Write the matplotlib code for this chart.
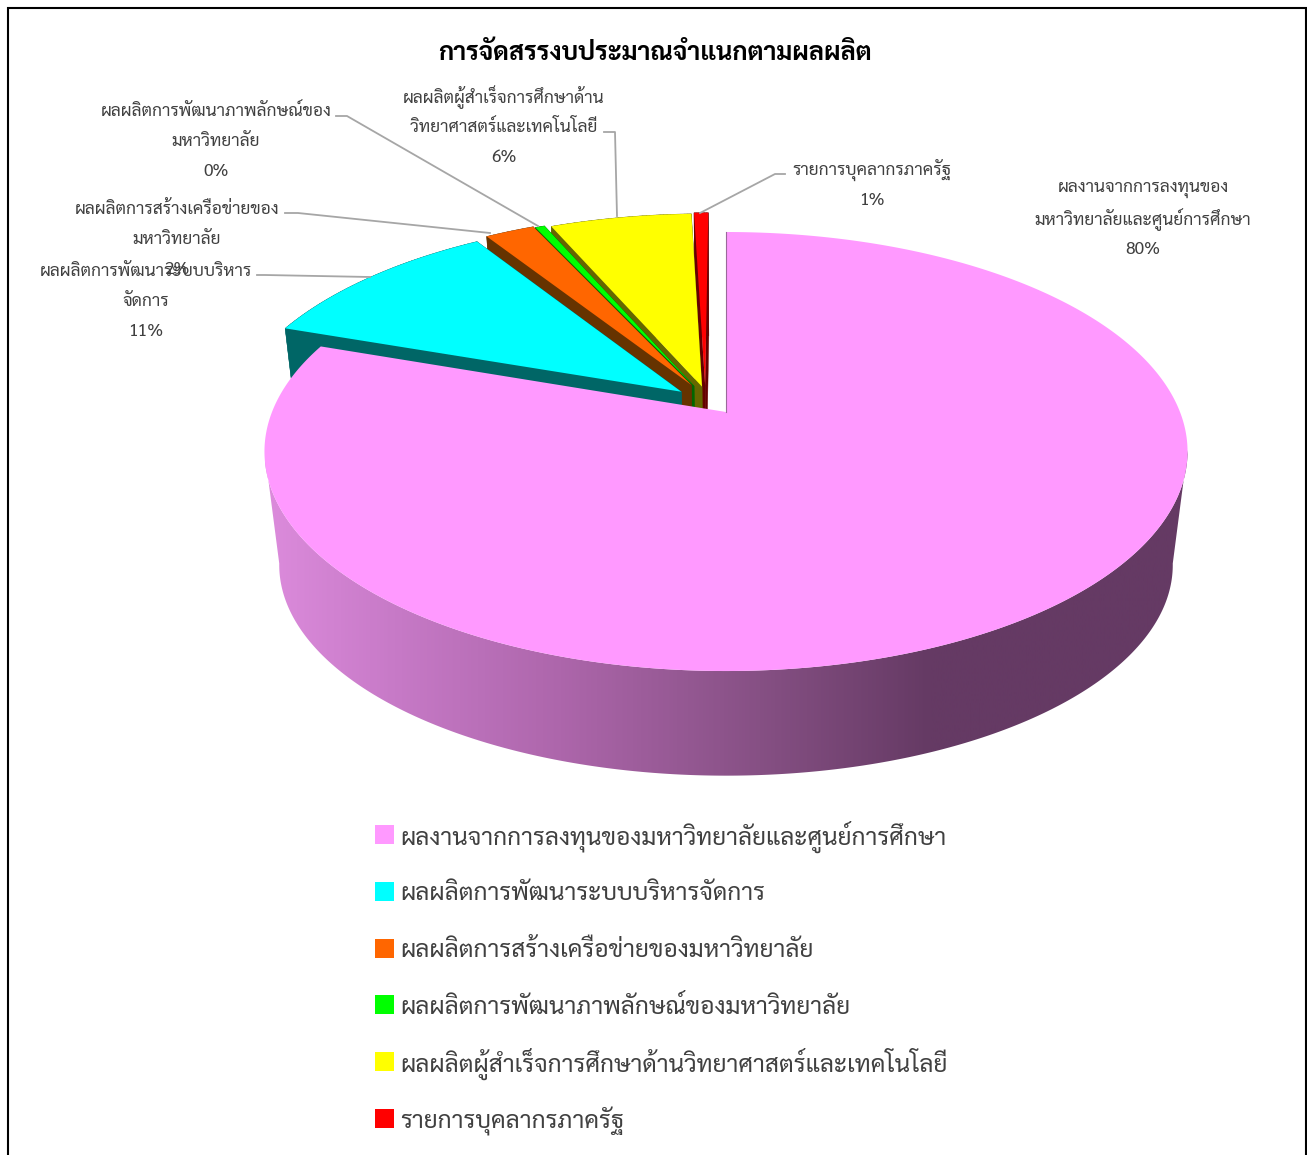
import matplotlib
matplotlib.use("Agg")
import matplotlib.pyplot as plt
from matplotlib.patches import Polygon, Rectangle
from matplotlib.colors import LinearSegmentedColormap
import numpy as np

plt.rcParams['font.family'] = ['Sarabun', 'DejaVu Sans']

title = "การจัดสรรงบประมาณจำแนกตามผลผลิต"
names = ["ผลงานจากการลงทุนของมหาวิทยาลัยและศูนย์การศึกษา",
         "ผลผลิตการพัฒนาระบบบริหารจัดการ",
         "ผลผลิตการสร้างเครือข่ายของมหาวิทยาลัย",
         "ผลผลิตการพัฒนาภาพลักษณ์ของมหาวิทยาลัย",
         "ผลผลิตผู้สำเร็จการศึกษาด้านวิทยาศาสตร์และเทคโนโลยี",
         "รายการบุคลากรภาครัฐ"]
label_lines = [["ผลงานจากการลงทุนของ", "มหาวิทยาลัยและศูนย์การศึกษา"],
               ["ผลผลิตการพัฒนาระบบบริหาร", "จัดการ"],
               ["ผลผลิตการสร้างเครือข่ายของ", "มหาวิทยาลัย"],
               ["ผลผลิตการพัฒนาภาพลักษณ์ของ", "มหาวิทยาลัย"],
               ["ผลผลิตผู้สำเร็จการศึกษาด้าน", "วิทยาศาสตร์และเทคโนโลยี"],
               ["รายการบุคลากรภาครัฐ"]]
values = [80.3, 10.6, 2.1, 0.4, 6.0, 0.6]
colors = ["#FF99FF", "#00FFFF", "#FF6600", "#00FF00", "#FFFF00", "#FF0000"]
dark = ["#653A64", "#006666", "#663300", "#006600", "#666600", "#660000"]
# how far each slice was pulled out (in pie radius units)
offset_x = [0, -0.100, -0.078, -0.072, -0.054, -0.047]
offset_y = [0, 0.097, 0.130, 0.125, 0.122, 0.129]
label_x = [1143, 146, 177, 216, 504, 872]
label_y = [189.5, 271.5, 209.5, 111.5, 97.5, 170.5]
leaders = [None,
           [(370, 277), (265, 275), (257, 275)],
           [(490, 233), (298, 213), (285, 213)],
           [(538, 226), (347, 116), (336, 116)],
           [(617, 216), (615, 132), (604, 132)],
           [(700, 213), (775, 174), (785, 174)]]
wall_stops = [(0.0, "#DC8BDC"), (0.146, "#C679C6"), (0.319, "#AD66AB"),
              (0.535, "#865084"), (0.719, "#653A64"), (1.0, "#653A64")]


def project(x, y, base=False):
    # perspective of the pie disc, top face or bottom face
    w = 1 + 0.18 * y
    if base:
        return 726 + 0.968 * 454 * x / w, 527 - 0.96 * 212.4 * y / w
    return 726 + 454 * x / w, 412 - 212.4 * y / w


def slice_outline(a0, a1, ox, oy):
    t = np.radians(np.linspace(a0, a1, max(int(a1 - a0) * 2, 8)))
    xs = np.concatenate([[ox], ox + np.sin(t)])
    ys = np.concatenate([[oy], oy + np.cos(t)])
    return xs, ys


fig = plt.figure(figsize=(13.07, 11.55), dpi=100)
ax = fig.add_axes([0, 0, 1, 1])
ax.set_xlim(0, 1307)
ax.set_ylim(1155, 0)
ax.axis("off")

ax.add_patch(Rectangle((7.5, 8), 1298, 1160, fc="white", ec="black", lw=1.5))

ends = np.cumsum(values) / sum(values) * 360
starts = np.concatenate([[0], ends[:-1]])

# back slices first, far one to near one, main slice last
for i in [5, 4, 3, 2, 1, 0]:
    xs, ys = slice_outline(starts[i], ends[i], offset_x[i], offset_y[i])
    tx, ty = project(xs, ys)
    bx, by = project(xs, ys, base=True)
    if i == 0:
        # front band of the wall, between the left and right extremes of the disc
        t = np.radians(np.linspace(100, 260, 320))
        rx, ry = np.sin(t), np.cos(t)
        fx, fy = project(rx, ry)
        gx, gy = project(rx, ry, base=True)
        band = np.column_stack([np.concatenate([fx, gx[::-1]]), np.concatenate([fy, gy[::-1]])])
        wall = Polygon(band, fc="none", ec="none")
        ax.add_patch(wall)
        cmap = LinearSegmentedColormap.from_list("wall", wall_stops)
        im = ax.imshow(np.linspace(0, 1, 512)[None, :], extent=(265, 1190, 800, 230),
                       cmap=cmap, aspect="auto", zorder=1)
        im.set_clip_path(wall)
        ax.set_xlim(0, 1307)
        ax.set_ylim(1155, 0)
    else:
        n = len(tx)
        for j in range(n):
            k = (j + 1) % n
            ax.add_patch(Polygon([(tx[j], ty[j]), (tx[k], ty[k]), (bx[k], by[k]), (bx[j], by[j])],
                                 fc=dark[i], ec=dark[i], lw=0.3, zorder=1))
    ax.add_patch(Polygon(np.column_stack([tx, ty]), fc=colors[i], ec="none", zorder=1))

# the thin cut edge of the main slice at twelve o'clock
tx, ty = project(np.array([0, 0]), np.array([0, 1]))
ax.plot(tx, ty, color="#9A6A9A", lw=0.8, zorder=2)

ax.text(655, 53.5, title, ha="center", va="center", fontsize=18.3, fontweight="bold", color="black")

for i in range(6):
    lines = label_lines[i] + ["%.0f%%" % values[i]]
    for j, line in enumerate(lines):
        ax.text(label_x[i], label_y[i] + 30 * j, line, ha="center", va="center",
                fontsize=12.5, color="#404040", zorder=3)
    if leaders[i]:
        px, py = zip(*leaders[i])
        ax.plot(px, py, color="#A6A6A6", lw=1.3, zorder=2)
    ax.add_patch(Rectangle((375, 825 + 56.8 * i), 19, 19, fc=colors[i], ec="none"))
    ax.text(400.5, 837 + 56.8 * i, names[i], ha="left", va="center", fontsize=17.6, color="#404040")

fig.savefig("out.png", dpi=100)
